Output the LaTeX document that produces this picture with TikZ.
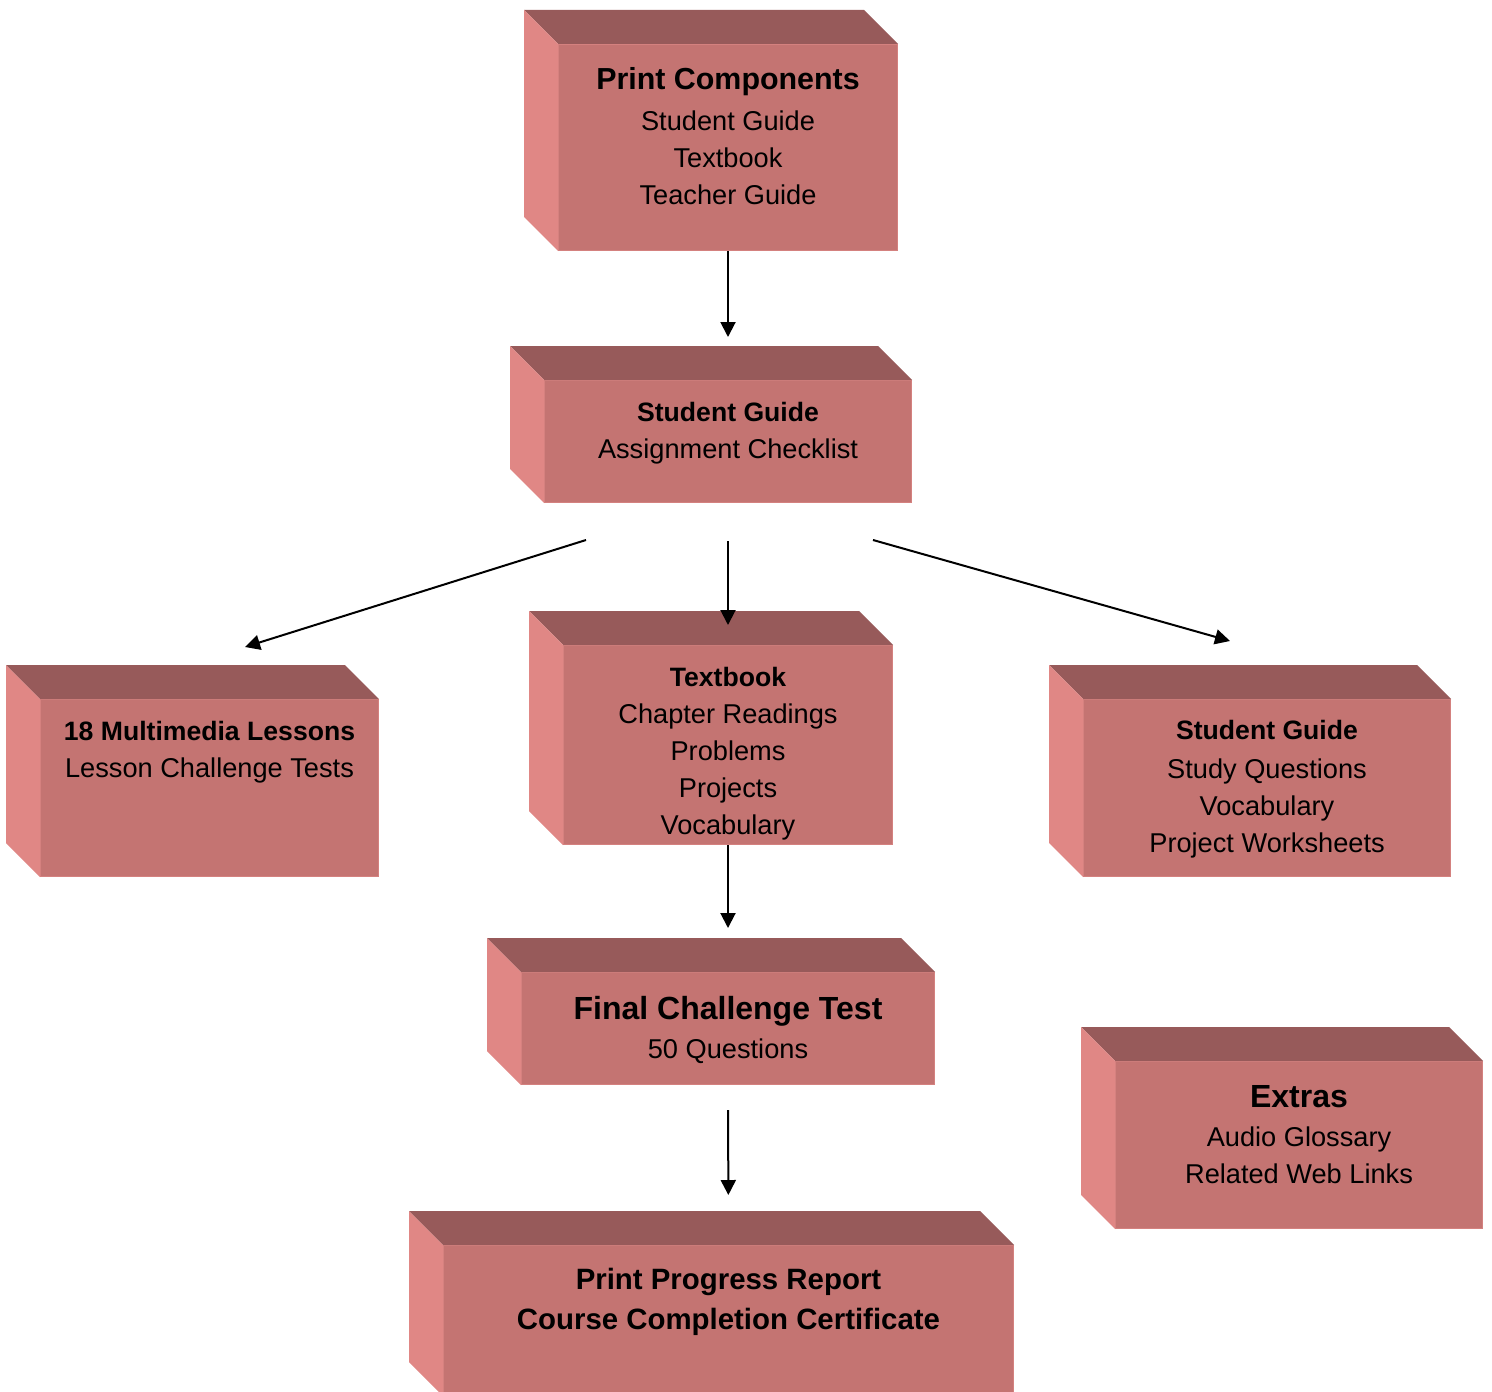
\documentclass[tikz,border=0pt]{standalone}
\usepackage{fontspec}
\setmainfont{Liberation Sans}
\usetikzlibrary{positioning,arrows.meta}

\definecolor{frontpink}{HTML}{C47472}
\definecolor{toppink}{HTML}{975A5A}
\definecolor{sidepink}{HTML}{E08785}
\definecolor{edgepink}{HTML}{D4817F}

\tikzset{
  front/.style={draw=edgepink, fill=frontpink, line width=0.5pt, anchor=north west, inner sep=0pt},
  txt/.style={align=center, inner sep=0pt, font=\fontsize{13.6}{18.5}\selectfont},
  arr/.style={line width=1pt, -{Triangle[length=7.5pt,width=7.5pt]}}
}
\newcommand{\bigtitle}[2][16]{{\bfseries\fontsize{#1}{18.5}\selectfont #2}}
\newcommand{\smalltitle}[1]{{\bfseries\fontsize{13.3}{18.5}\selectfont #1}}
% top and left faces of a block
\newcommand{\blockfaces}[1]{
  \fill[toppink] (#1.north west) -- ++(-34,-34) -- ([shift={(-17pt,17pt)}]#1.north east) -- (#1.north east) -- cycle;
  \fill[sidepink] (#1.north west) -- ++(-34,-34) -- ([shift={(-17pt,17pt)}]#1.south west) -- (#1.south west) -- cycle;
}

\begin{document}
\begin{tikzpicture}[x=0.5pt, y=-0.5pt]
\useasboundingbox (0,0) rectangle (1492,1391);

% blocks
\node[front, minimum width=169.5pt, minimum height=103pt] (pc) at (558,44) {};
\blockfaces{pc}
\node[front, minimum width=183.5pt, minimum height=61pt] (sg) at (544,380) {};
\blockfaces{sg}
\node[front, minimum width=169pt, minimum height=88.5pt] (mm) at (40,699) {};
\blockfaces{mm}
\node[front, minimum width=164.5pt, minimum height=99.5pt] (tb) at (563,645) {};
\blockfaces{tb}
\node[front, minimum width=183.5pt, minimum height=88.5pt] (sgr) at (1083,699) {};
\blockfaces{sgr}
\node[front, minimum width=206.5pt, minimum height=56pt] (fct) at (521,972) {};
\blockfaces{fct}
\node[front, minimum width=183.5pt, minimum height=83.5pt] (ex) at (1115,1061) {};
\blockfaces{ex}
\node[front, minimum width=285pt, minimum height=75pt] (ppr) at (443,1245) {};
\blockfaces{ppr}

% texts
\node[txt, below=11.5pt of pc.north] (pc-t) {\bigtitle[15.2]{Print Components}\\[2pt] Student Guide\\ Textbook\\ Teacher Guide};
\node[txt, below=11pt of sg.north] (sg-t) {\smalltitle{Student Guide}\\ Assignment Checklist};
\node[txt, below=11pt of mm.north] (mm-t) {\smalltitle{18 Multimedia Lessons}\\ Lesson Challenge Tests};
\node[txt, below=11pt of tb.north] (tb-t) {\smalltitle{Textbook}\\ Chapter Readings\\ Problems\\ Projects\\ Vocabulary};
\node[txt, below=10.5pt of sgr.north] (sgr-t) {\smalltitle{Student Guide}\\[1pt] Study Questions\\ Vocabulary\\ Project Worksheets};
\node[txt, below=12pt of fct.north] (fct-t) {\bigtitle{Final Challenge Test}\\[1pt] 50 Questions};
\node[txt, below=12pt of ex.north] (ex-t) {\bigtitle{Extras}\\[1pt] Audio Glossary\\ Related Web Links};
\node[txt, below=11.5pt of ppr.north, font=\bfseries\fontsize{14.7}{20}\selectfont] (ppr-t) {Print Progress Report\\ Course Completion Certificate};

% arrows
\coordinate (sg-l) at (586,540);
\coordinate (mm-in) at (245,647);
\coordinate (sg-r) at (873,540);
\coordinate (sgr-in) at (1230,641);

\draw[arr, shorten >=21.5pt] (pc.south) -- (sg.north);
\draw[arr] (sg-l) -- (mm-in);
\draw[arr, shorten <=19pt, shorten >=10pt] (sg.south) -- (tb.north);
\draw[arr] (sg-r) -- (sgr-in);
\draw[arr, shorten >=22pt] (tb.south) -- (fct.north);
\draw[arr, shorten <=12.5pt, shorten >=25pt] (fct.south) -- (ppr.north);
\end{tikzpicture}
\end{document}
